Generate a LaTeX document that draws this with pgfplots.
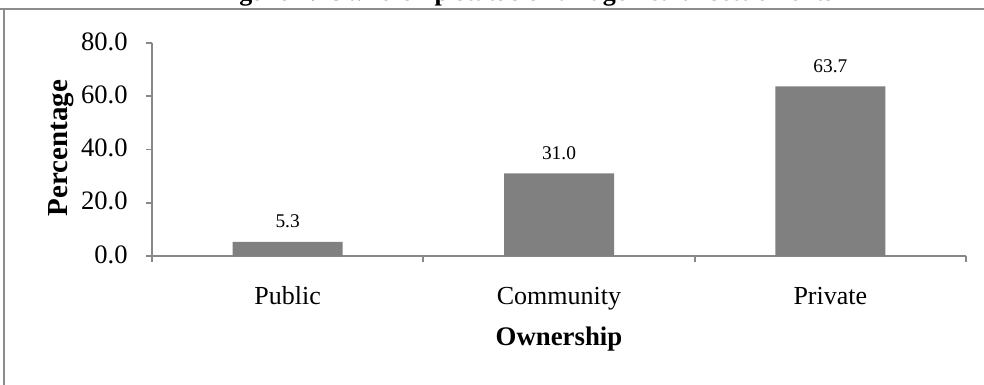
\documentclass[border=0pt]{standalone}
\usepackage{pgfplots}
\pgfplotsset{compat=1.18}
\usepackage{fontspec}
\setmainfont{Liberation Serif}

\definecolor{barfill}{HTML}{808080}
\definecolor{framegray}{HTML}{8C8C8C}
\definecolor{axisgray}{HTML}{888888}

\begin{document}
\begin{tikzpicture}
  % page area and clipping (492pt x 192.5pt)
  \useasboundingbox (0pt,0pt) rectangle (492pt,-192.5pt);
  \clip (0pt,0pt) rectangle (492pt,-192.5pt);
  \fill[white] (0pt,0pt) rectangle (492pt,-192.5pt);

  % figure caption (top part runs off the page)
  \node[anchor=base, font=\fontsize{13}{15}\selectfont\bfseries, inner sep=0pt]
    at (262.5pt,-0.5pt) {Figure 4: Ownership status of village health settlements};

  % chart frame
  \draw[framegray, line width=1.1pt] (-3pt,-4.5pt) -- (495pt,-4.5pt);
  \draw[framegray, line width=1pt] (2pt,-4.5pt) -- (2pt,-200pt);

  \begin{axis}[
    at={(76pt,-128pt)}, anchor=south west,
    scale only axis,
    width=407pt, height=106.5pt,
    xmin=-0.5, xmax=2.5,
    ymin=0, ymax=80,
    axis lines*=left,
    axis line style={axisgray, line width=0.9pt},
    xtick=data,
    xticklabels={Public, Community, Private},
    major x tick style={draw=none},
    minor xtick={-0.5,0.5,1.5,2.5},
    minor tick length=3pt,
    minor x tick style={axisgray, line width=0.9pt},
    ytick={0,20,40,60,80},
    major tick length=3pt,
    y tick style={axisgray, line width=0.9pt},
    tick align=outside,
    yticklabel={\pgfmathprintnumber[fixed, fixed zerofill, precision=1]{\tick}},
    /pgf/number format/assume math mode=true,
    yticklabel style={font=\fontsize{13.3}{15}\selectfont, anchor=east, inner sep=0pt, xshift=-9pt, yshift=0.8pt},
    xticklabel style={font=\fontsize{13}{15}\selectfont, anchor=base, inner sep=0pt, yshift=-21pt},
    xlabel={Ownership},
    xlabel style={font=\fontsize{13.4}{15}\selectfont\bfseries, at={(axis description cs:0.5,-0.39)}, anchor=center},
    ylabel={Percentage},
    ylabel style={font=\fontsize{14.5}{16}\selectfont\bfseries, at={(axis description cs:-0.111,0.507)}, anchor=center},
    ybar,
    bar width=55pt,
    bar shift=0pt,
    nodes near coords={\pgfmathprintnumber[fixed, fixed zerofill, precision=1]{\pgfplotspointmeta}},
    nodes near coords style={font=\fontsize{9.7}{11}\selectfont, anchor=base, inner sep=0pt, yshift=7pt},
    clip=false,
  ]
    \addplot[fill=barfill, draw=none] coordinates {(0,5.3) (1,31.0) (2,63.7)};
  \end{axis}
\end{tikzpicture}
\end{document}
